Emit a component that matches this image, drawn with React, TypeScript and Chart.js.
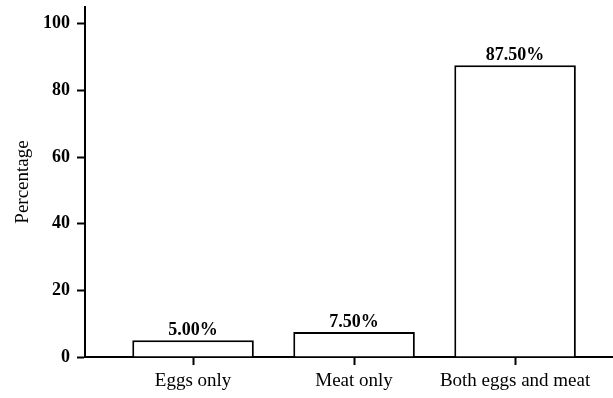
import React, { useEffect, useRef } from "react";
import { Chart, registerables } from "chart.js";

Chart.register(...registerables);

const categories = ["Eggs only", "Meat only", "Both eggs and meat"];
const percentages = [5.0, 7.5, 87.5];
const yTicks = [0, 20, 40, 60, 80, 100];

const FONT = "'Liberation Serif', 'Times New Roman', serif";

const valueLabels = {
  id: "valueLabels",
  afterDatasetsDraw(chart: any) {
    const ctx = chart.ctx;
    const meta = chart.getDatasetMeta(0);
    ctx.save();
    ctx.font = `bold 18px ${FONT}`;
    ctx.fillStyle = "#000";
    ctx.textAlign = "center";
    ctx.textBaseline = "alphabetic";
    meta.data.forEach((bar: any, i: number) => {
      ctx.fillText(percentages[i].toFixed(2) + "%", bar.x, bar.y - 5);
    });
    ctx.restore();
  },
};

export default function App() {
  const ref = useRef<HTMLCanvasElement | null>(null);

  useEffect(() => {
    if (!ref.current) return;
    const chart = new Chart(ref.current, {
      type: "bar",
      data: {
        datasets: [
          {
            data: percentages.map((v, i) => ({ x: i, y: v })),
            backgroundColor: "#ffffff",
            borderColor: "#000000",
            borderWidth: 2,
            categoryPercentage: 1,
            barPercentage: 0.755,
          },
        ],
      },
      options: {
        animation: false,
        responsive: false,
        maintainAspectRatio: false,
        layout: { padding: { left: 0, right: 1, top: 7, bottom: 0 } },
        plugins: {
          legend: { display: false },
          tooltip: { enabled: false },
        },
        scales: {
          x: {
            type: "linear",
            offset: false,
            min: -0.671,
            max: 2.602,
            afterBuildTicks: (scale: any) => {
              scale.ticks = categories.map((_, i) => ({ value: i }));
            },
            afterFit: (scale: any) => {
              scale.height = 41;
              scale.paddingLeft = 0;
              scale.paddingRight = 0;
            },
            ticks: {
              autoSkip: false,
              maxRotation: 0,
              padding: 5,
              color: "#000",
              font: { family: FONT, size: 19 },
              callback: (v: any) => categories[v as number] ?? "",
            },
            grid: {
              offset: false,
              drawOnChartArea: false,
              drawTicks: true,
              tickLength: 8,
              tickWidth: 2,
              tickColor: "#000",
            },
            border: { display: true, color: "#000", width: 2 },
          },
          y: {
            min: 0,
            max: 105,
            afterBuildTicks: (scale: any) => {
              scale.ticks = yTicks.map((v) => ({ value: v }));
            },
            afterFit: (scale: any) => {
              scale.width = 85;
              scale.paddingTop = 0;
              scale.paddingBottom = 0;
            },
            ticks: {
              padding: 7,
              color: "#000",
              font: { family: FONT, size: 18, weight: "bold" },
            },
            grid: {
              drawOnChartArea: false,
              drawTicks: true,
              tickLength: 8,
              tickWidth: 2,
              tickColor: "#000",
            },
            border: { display: true, color: "#000", width: 2 },
            title: {
              display: true,
              text: "Percentage",
              color: "#000",
              font: { family: FONT, size: 19 },
              padding: { top: 12, bottom: 0 },
            },
          },
        },
      },
      plugins: [valueLabels],
    });
    return () => chart.destroy();
  }, []);

  return (
    <div style={{ position: "absolute", left: 0, top: 0, width: 613, height: 398, background: "#fff" }}>
      <canvas ref={ref} width={613} height={398} style={{ display: "block" }} />
    </div>
  );
}
